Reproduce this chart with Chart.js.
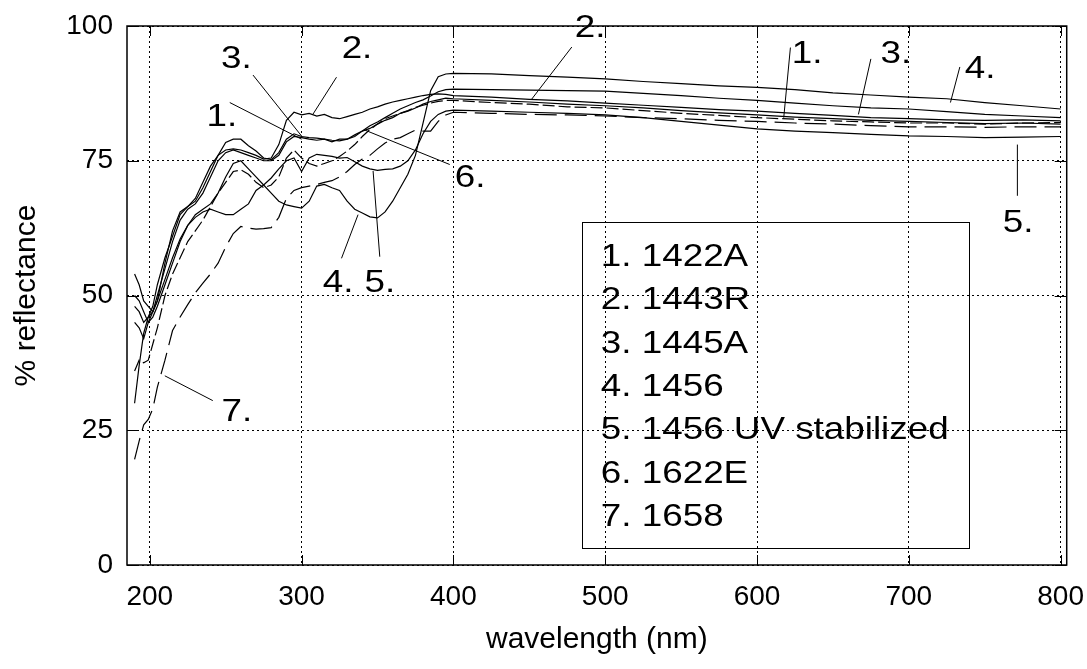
<!DOCTYPE html>
<html>
<head>
<meta charset="utf-8">
<script src="https://cdn.jsdelivr.net/npm/chart.js@4"></script>
<style>
html, body { margin: 0; padding: 0; background: #fff; }
</style>
</head>
<body>
<canvas id="graficoReflectancia" width="1087" height="669"></canvas>
<script>
// comprimentos de onda (nm) - passo menor na parte UV
var wl = [190,193,196,199,202,205,210,215,220,225,230,235,240,245,250,255,260,265,270,275,280,285,290,295,300,305,310,315,320,325,330,335,340,345,350,355,360,365,370,375,380,385,390,395,400,
    425,450,475,500,525,550,575,600,625,650,675,700,725,750,775,800];

// % reflectancia
var s1 = [30,37,43,46,47,50,55,60,64,66,67,69,72,75,76.5,77,76.5,76,75.5,75,75,76,78.5,79.5,79.3,79,78.8,79,78.5,79,79,79.5,80.5,81,81.8,82.5,83,83.8,84.2,84.8,85.5,86,86.3,86.6,86.5,
    86.2,85.9,85.5,85.2,84.8,84.3,83.9,83.5,83.1,82.8,82.5,82.3,82.1,81.9,82,81.8];
var s2 = [48,47,45,46,48,52,57,61,65,66.5,68,71,74,76,77,77.2,77,76.5,76,75.3,75.5,78,82.5,84,83.5,83.8,83.3,83.6,83,82.8,83.2,83.6,84,84.6,85,85.5,85.9,86.2,86.5,86.8,87.1,87.3,87.4,87.3,87.1,
    86.8,86.4,86.1,85.7,85.3,84.9,84.5,84.2,83.8,83.4,83,82.8,82.6,82.5,82.6,82.4];
var s3 = [54,52,49,48,47,49,56,62,65.5,66.5,67.5,70,73,76,78.4,79,79,77.8,76.8,75.5,75.2,76.5,79,80,79.5,79.3,79.2,79,78.8,78.7,79,79.8,80.5,81.5,82.2,83,83.8,84.6,85.2,85.8,86.3,87,87.8,88.2,88.3,
    88.2,88.1,88,87.9,87.5,87.1,86.6,86.2,85.7,85.2,84.8,84.6,84.1,83.6,83.3,83];
var s4 = [50,49,47,45,46,48,52,56,60,63,65,66,67,69,72,74.5,75,73.5,72,70.5,69,67.5,66.8,66.5,66.2,67.5,70.3,70.6,70,69.5,67.5,66,65.3,64.6,64.4,65.5,67.5,70,72.5,76,82,88,90.6,91.1,91.2,
    91.1,90.8,90.5,90.2,89.7,89.3,88.9,88.6,88.2,87.6,87.2,86.8,86.5,85.8,85.2,84.6];
var s5 = [45,44,42,45,47,49,53,57,60.5,63,64.5,65.5,66,65.5,65,65,66,67,69.5,70.5,71.8,73.5,75,75.5,73,75.5,76.2,76,75.8,75.5,75.6,74.8,74,73.5,73.2,73.4,73.5,74,75,77,80,82.3,83.6,84.2,84.4,
    84.2,84,83.8,83.5,83,82.3,81.6,80.9,80.5,80.2,79.9,79.6,79.5,79.3,79.4,79.5];
var s6 = [36,38,37.5,38,41,44,50,54,57,60,62,64,66.5,69,71,73,73.3,72.5,71,70,70.5,72,75.5,77,75.5,74.5,74,74.5,75,75.8,76.8,78,79.5,80.8,81.8,82.8,83.3,83.8,84.3,84.9,85.3,85.7,86,86.2,86.2,
    85.8,85.5,85,84.8,84.3,83.8,83.4,83,82.7,82.4,82.2,82,82,81.8,82,82.1];
var s7 = [19.6,23,26,27,29,33,38,43.5,46,48.3,50.5,52.3,54,56,59,61.5,62.8,62.5,62.3,62.4,62.6,64.5,68,69.5,70,70.3,70.6,71,71.3,72,73,74.3,75.3,76,77.2,78.3,79,79.3,80,80.7,80.5,80.5,82.3,83.5,84,
    83.8,83.6,83.5,83.3,83,82.8,82.5,82.3,82,81.8,81.5,81.3,81.3,81.2,81.3,81.3];

var series = [s1, s2, s3, s4, s5, s6, s7];
var nomes = ['1. 1422A', '2. 1443R', '3. 1445A', '4. 1456', '5. 1456 UV stabilized', '6. 1622E', '7. 1658'];
var tracos = [[], [], [], [], [], [12, 4], [22, 8]];

var xTicks = [200, 300, 400, 500, 600, 700, 800];
var yTicks = [0, 25, 50, 75, 100];

// numeros sobre as curvas: texto, posicao do texto e linha de chamada (em unidades do grafico)
var marcas = [
    {t: '3.', x: 257, y: 93.8, de: [268, 90.9], ate: [300.8, 79.3]},
    {t: '2.', x: 336.5, y: 95.7, de: [323, 90.5], ate: [307.4, 83.6]},
    {t: '1.', x: 247.5, y: 83, de: [252.7, 85.8], ate: [300, 79]},
    {t: '6.', x: 411, y: 71.8, de: [397.6, 74.3], ate: [341.6, 80.7]},
    {t: '4.', x: 324, y: 52.2, de: [326.3, 56.9], ate: [337.2, 65]},
    {t: '5.', x: 351.5, y: 52.2, de: [351.5, 57.2], ate: [347.1, 73.1]},
    {t: '7.', x: 257.3, y: 28.4, de: [241.5, 30.5], ate: [209.9, 35.1]},
    {t: '2.', x: 490, y: 99.6, de: [478, 96.1], ate: [451.5, 86.4]},
    {t: '1.', x: 633, y: 94.8, de: [622, 96], ate: [617.6, 83]},
    {t: '3.', x: 691.5, y: 94.8, de: [675, 93.9], ate: [666.8, 83.6]},
    {t: '4.', x: 747, y: 92, de: [733.6, 92.4], ate: [727.4, 85.8]},
    {t: '5.', x: 772, y: 63.4, de: [771.5, 78], ate: [771.5, 68.5]}
];

var fonte = '"Liberation Sans", Arial, sans-serif';

var datasets = series.map(function(s, i){
    return {
        label: nomes[i],
        data: wl.map(function(x, j){ return {x: x, y: s[j]}; }),
        borderColor: '#000',
        borderWidth: 1.2,
        borderDash: tracos[i],
        pointRadius: 0,
        tension: 0,
        fill: false
    };
});

// texto um pouco mais largo, como no original
function textoLargo(ctx, t, x, y){
    ctx.save();
    ctx.translate(x, y);
    ctx.scale(1.15, 1);
    ctx.fillText(t, 0, 0);
    ctx.restore();
}

/* desenha a moldura, os tracinhos internos, os numeros das curvas e a caixa com os nomes */
var extras = {
    id: 'extras',
    afterDraw: function(chart){
        var ctx = chart.ctx;
        var a = chart.chartArea;
        var sx = chart.scales.x, sy = chart.scales.y;
        ctx.save();
        ctx.strokeStyle = '#000';
        ctx.fillStyle = '#000';
        ctx.lineWidth = 1;
        ctx.setLineDash([]);

        // tracinhos
        ctx.beginPath();
        xTicks.forEach(function(v){
            var px = Math.round(sx.getPixelForValue(v)) + 0.5;
            ctx.moveTo(px, a.bottom); ctx.lineTo(px, a.bottom - 10);
            ctx.moveTo(px, a.top); ctx.lineTo(px, a.top + 10);
        });
        yTicks.forEach(function(v){
            var py = Math.round(sy.getPixelForValue(v)) + 0.5;
            ctx.moveTo(a.left, py); ctx.lineTo(a.left + 12, py);
            ctx.moveTo(a.right, py); ctx.lineTo(a.right - 12, py);
        });
        ctx.stroke();

        // moldura
        ctx.lineWidth = 1.5;
        ctx.strokeRect(a.left, a.top, a.right - a.left, a.bottom - a.top);

        // numeros e linhas de chamada
        ctx.lineWidth = 1;
        ctx.font = '32px ' + fonte;
        ctx.textAlign = 'center';
        ctx.textBaseline = 'middle';
        marcas.forEach(function(m){
            ctx.beginPath();
            ctx.moveTo(sx.getPixelForValue(m.de[0]), sy.getPixelForValue(m.de[1]));
            ctx.lineTo(sx.getPixelForValue(m.ate[0]), sy.getPixelForValue(m.ate[1]));
            ctx.stroke();
            textoLargo(ctx, m.t, sx.getPixelForValue(m.x), sy.getPixelForValue(m.y));
        });

        // caixa dos nomes
        var bx1 = sx.getPixelForValue(484.6), bx2 = sx.getPixelForValue(739.5);
        var by1 = sy.getPixelForValue(63.6), by2 = sy.getPixelForValue(3.2);
        ctx.strokeRect(Math.round(bx1) + 0.5, Math.round(by1) + 0.5, Math.round(bx2 - bx1), Math.round(by2 - by1));
        ctx.textAlign = 'left';
        nomes.forEach(function(n, i){
            textoLargo(ctx, n, bx1 + 19, by1 + 35 + i * 43.3);
        });
        ctx.restore();
    }
};

new Chart(document.getElementById('graficoReflectancia'), {
    type: 'line',
    data: { datasets: datasets },
    options: {
        responsive: false,
        animation: false,
        devicePixelRatio: 1,
        layout: { padding: { left: 0, right: 0, top: 26, bottom: 0 } },
        plugins: {
            legend: { display: false },
            tooltip: { enabled: false }
        },
        scales: {
            x: {
                type: 'linear',
                min: 185,
                max: 804,
                afterBuildTicks: function(scale){ scale.ticks = xTicks.map(function(v){ return {value: v}; }); },
                afterFit: function(scale){ scale.height = 104; },
                grid: { color: '#000', lineWidth: 1, drawTicks: true, tickLength: 12, tickColor: 'rgba(0,0,0,0)' },
                border: { display: false, dash: [2, 3] },
                ticks: { color: '#000', padding: 3, maxRotation: 0, font: { family: fonte, size: 28 } },
                title: { display: true, text: 'wavelength (nm)', color: '#000', padding: { top: 4, bottom: 11 }, font: { family: fonte, size: 30 } }
            },
            y: {
                min: 0,
                max: 100,
                afterBuildTicks: function(scale){ scale.ticks = yTicks.map(function(v){ return {value: v}; }); },
                afterFit: function(scale){ scale.width = 127; },
                grid: { color: '#000', lineWidth: 1, drawTicks: true, tickLength: 11, tickColor: 'rgba(0,0,0,0)' },
                border: { display: false, dash: [2, 3] },
                ticks: { color: '#000', padding: 3, font: { family: fonte, size: 28 } },
                title: { display: true, text: '% reflectance', color: '#000', padding: { top: 9, bottom: 4 }, font: { family: fonte, size: 30 } }
            }
        }
    },
    plugins: [extras]
});
</script>
</body>
</html>
